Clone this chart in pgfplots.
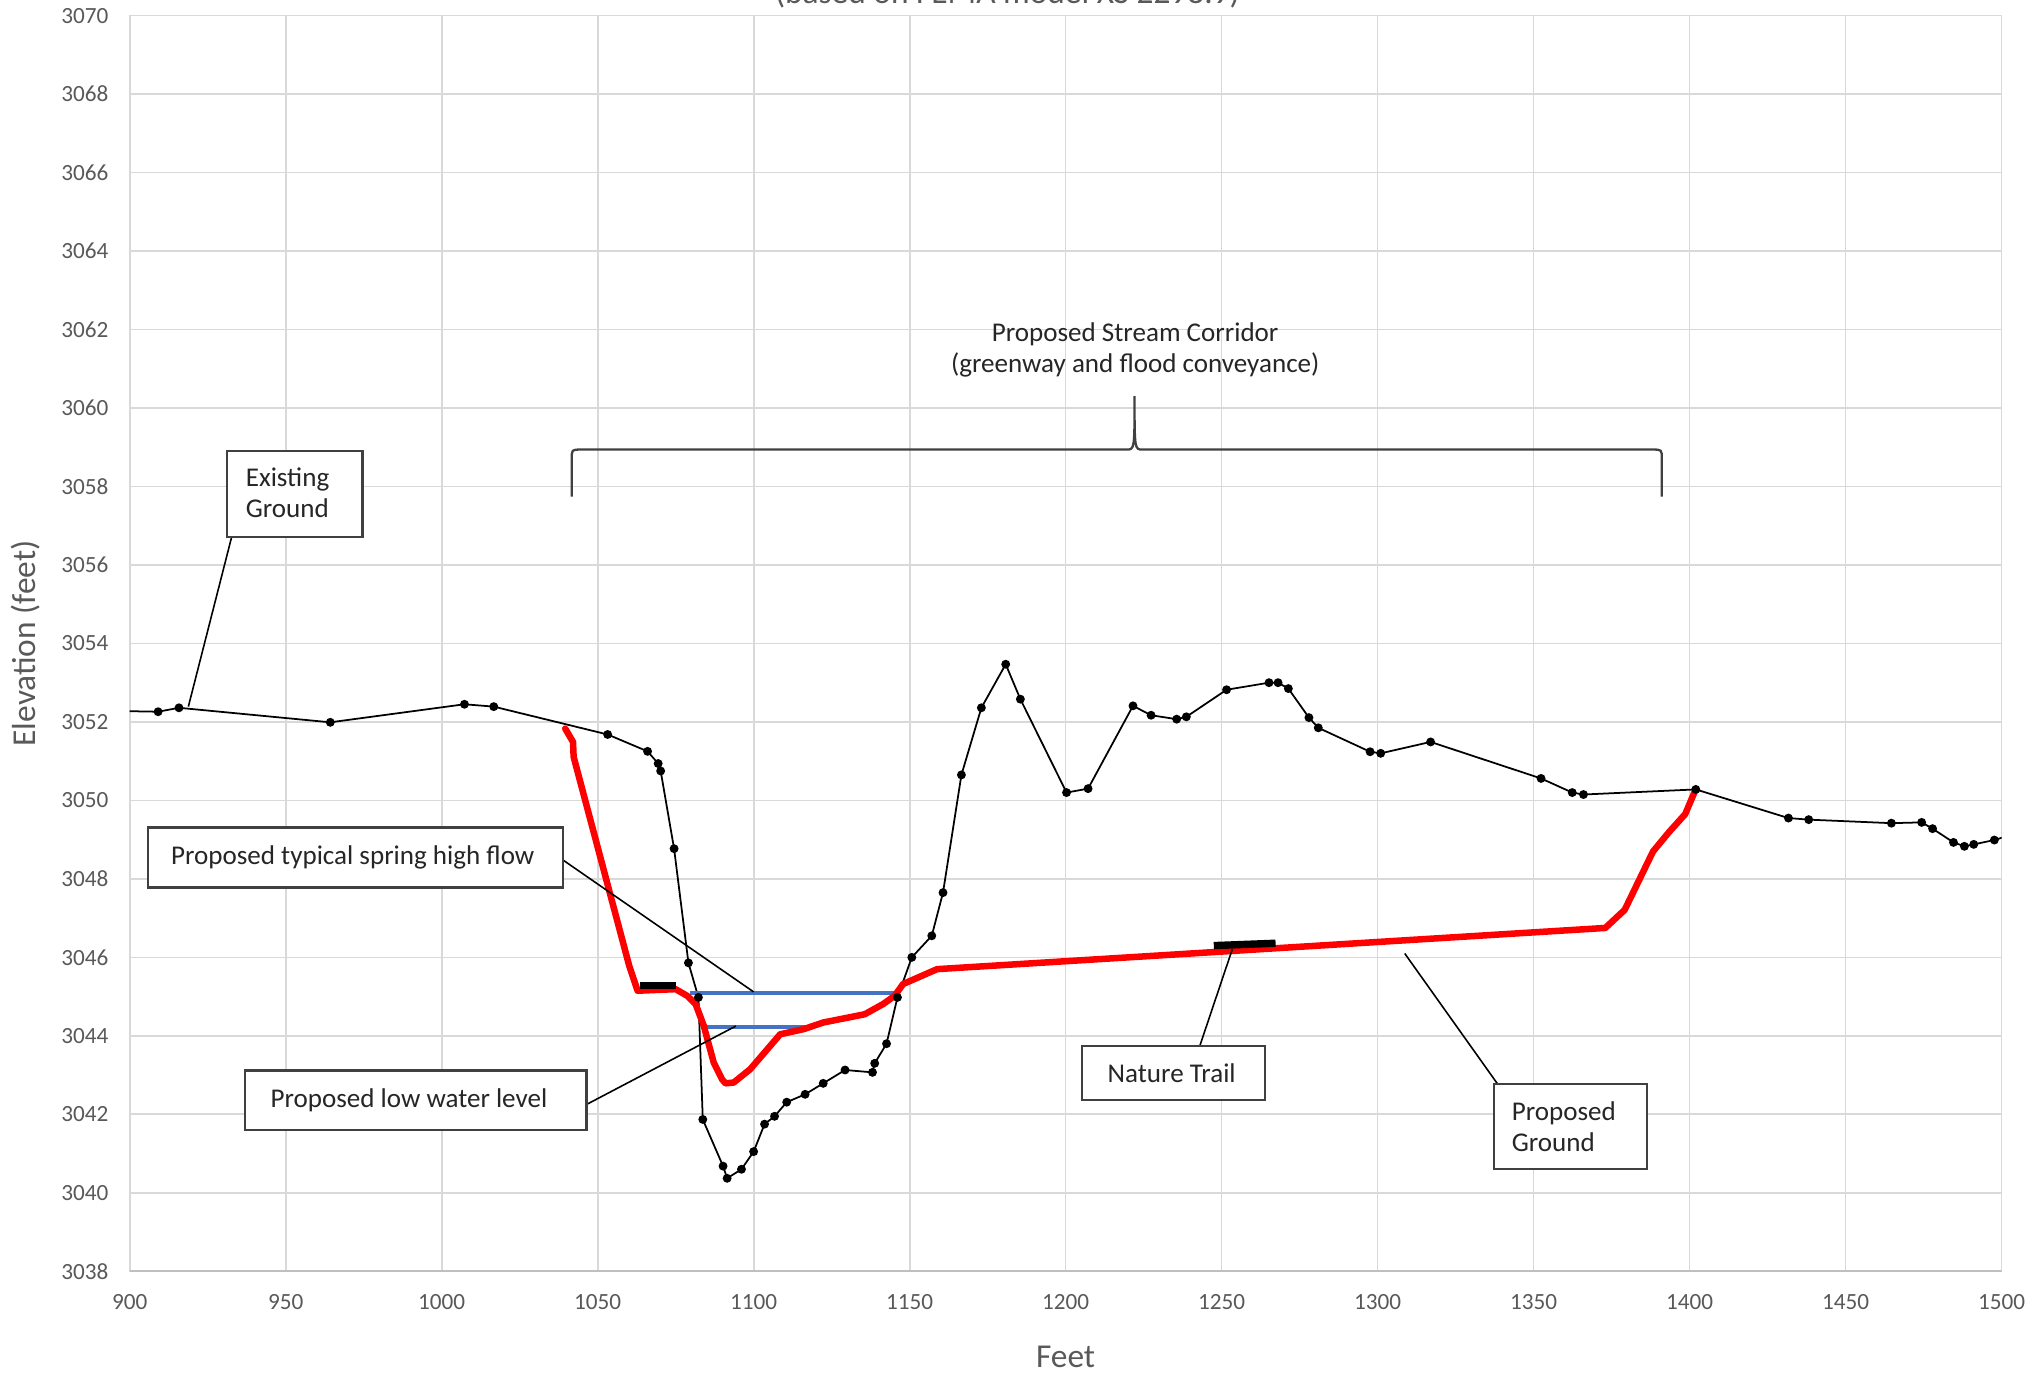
\documentclass[border=0pt]{standalone}
\usepackage{fontspec}
\setmainfont{Carlito}
\usepackage{pgfplots}
\pgfplotsset{compat=1.18}
\usepackage{pgfplotstable}

\definecolor{gridc}{HTML}{D9D9D9}
\definecolor{axc}{HTML}{BFBFBF}
\definecolor{tickc}{HTML}{595959}
\definecolor{txtc}{HTML}{262626}
\definecolor{boxc}{HTML}{404040}
\definecolor{bluec}{HTML}{4472C4}

\pgfplotstableread{
x y
895 3052.28
909.1 3052.26
915.8 3052.36
964.3 3051.99
1007.3 3052.45
1016.7 3052.39
1053.2 3051.68
1066.0 3051.25
1069.4 3050.94
1070.2 3050.75
1074.5 3048.77
1079.1 3045.86
1082.3 3044.98
1083.7 3041.87
1090.2 3040.68
1091.5 3040.37
1096.1 3040.60
1100.0 3041.05
1103.5 3041.75
1106.7 3041.95
1110.6 3042.31
1116.5 3042.51
1122.3 3042.79
1129.3 3043.13
1138.1 3043.07
1138.8 3043.30
1142.6 3043.80
1146.1 3044.98
1150.7 3046.00
1157.1 3046.55
1160.7 3047.65
1166.6 3050.65
1173.0 3052.36
1180.8 3053.47
1185.5 3052.58
1200.3 3050.20
1207.2 3050.30
1221.6 3052.41
1227.4 3052.17
1235.6 3052.07
1238.7 3052.13
1251.6 3052.82
1265.2 3053.00
1268.1 3053.00
1271.4 3052.85
1278.0 3052.11
1281.0 3051.85
1297.6 3051.24
1301.0 3051.20
1317.0 3051.49
1352.4 3050.56
1362.4 3050.20
1366.0 3050.15
1402.0 3050.28
1431.7 3049.55
1438.2 3049.51
1464.7 3049.42
1474.4 3049.44
1477.9 3049.28
1484.6 3048.93
1488.1 3048.83
1491.1 3048.88
1497.7 3048.99
1505.0 3049.17
}\existing

\pgfplotstableread{
x y
1039.6 3051.83
1042.1 3051.49
1042.3 3051.11
1060.1 3045.79
1062.8 3045.15
1075.0 3045.19
1078.7 3045.02
1081.4 3044.81
1084.0 3044.26
1087.2 3043.32
1089.9 3042.89
1091.0 3042.79
1093.6 3042.81
1098.9 3043.15
1108.5 3044.04
1116.0 3044.17
1122.3 3044.34
1135.6 3044.55
1141.5 3044.81
1145.2 3045.02
1147.9 3045.32
1158.8 3045.70
1373.0 3046.75
1379.2 3047.21
1388.3 3048.70
1393.5 3049.20
1398.6 3049.65
1401.8 3050.25
}\proposed

\begin{document}
\begin{tikzpicture}
\begin{axis}[
  scale only axis, width=187.18mm, height=125.57mm,
  xmin=900, xmax=1500, ymin=3038, ymax=3070,
  xtick={900,950,...,1500}, ytick={3038,3040,...,3070},
  grid=major, grid style={draw=gridc, line width=0.5pt},
  axis line style={draw=gridc, line width=0.5pt},
  major tick length=0pt,
  /pgf/number format/assume math mode=true,
  /pgf/number format/1000 sep={},
  tick label style={font=\fontsize{6.6}{7}\selectfont, text=tickc},
  xticklabel style={anchor=north, inner sep=0pt, yshift=-2.2mm},
  yticklabel style={anchor=east, inner sep=0pt, xshift=-2.07mm},
  xlabel={Feet}, ylabel={Elevation (feet)},
  label style={font=\fontsize{9.5}{11}\selectfont, text=tickc},
  xlabel style={at={(axis description cs:0.5,-0.0682)}, anchor=center},
  ylabel style={at={(axis description cs:-0.0554,0.5)}, anchor=center},
]
\draw[axc, line width=0.6pt] (rel axis cs:0,0) -- (rel axis cs:1,0);

\addplot[black, line width=0.5pt, mark=*, mark size=1.0pt, mark options={fill=black}] table {\existing};
\addplot[bluec, line width=1.0pt] coordinates {(1079.5,3045.09) (1145.5,3045.09)};
\addplot[bluec, line width=1.0pt] coordinates {(1084.5,3044.23) (1117,3044.23)};
\addplot[red, line width=1.85pt, line join=round, line cap=round] table {\proposed};
\addplot[black, line width=2.1pt] coordinates {(1063.5,3045.28) (1075,3045.28)};
\addplot[black, line width=2.1pt] coordinates {(1247.5,3046.30) (1267.3,3046.36)};

% brace
\draw[boxc, line width=0.65pt] (axis cs:1041.7,3057.74) -- (axis cs:1041.7,3058.70)
  .. controls (axis cs:1041.7,3058.94) .. (axis cs:1044.5,3058.94)
  -- (axis cs:1219.5,3058.94)
  .. controls (axis cs:1222.1,3058.94) .. (axis cs:1222.1,3060.30)
  .. controls (axis cs:1222.1,3058.94) .. (axis cs:1224.7,3058.94)
  -- (axis cs:1388.3,3058.94)
  .. controls (axis cs:1391.1,3058.94) .. (axis cs:1391.1,3058.70)
  -- (axis cs:1391.1,3057.74);
\node[align=center, font=\fontsize{7.7}{8.8}\selectfont, text=txtc, inner sep=0pt]
  at (axis cs:1222.3,3061.47) {Proposed Stream Corridor\\(greenway and flood conveyance)};

% callout lines
\draw[black, line width=0.45pt] (axis cs:932.7,3056.72) -- (axis cs:918.8,3052.39);
\draw[black, line width=0.45pt] (axis cs:1038.9,3048.48) -- (axis cs:1100.0,3045.12);
\draw[black, line width=0.45pt] (axis cs:1046.4,3042.25) -- (axis cs:1094.3,3044.25);
\draw[black, line width=0.45pt] (axis cs:1243.0,3043.74) -- (axis cs:1253.4,3046.20);
\draw[black, line width=0.45pt] (axis cs:1338.5,3042.77) -- (axis cs:1308.7,3046.10);

% boxes
\draw[boxc, line width=0.65pt, fill=white] (axis cs:931.3,3056.72) rectangle (axis cs:974.6,3058.91);
\node[anchor=west, align=left, font=\fontsize{7.7}{8.8}\selectfont, text=txtc, inner sep=0pt]
  at (axis cs:937,3057.85) {Existing\\Ground};

\draw[boxc, line width=0.65pt, fill=white] (axis cs:905.8,3047.78) rectangle (axis cs:1038.9,3049.31);
\node[font=\fontsize{7.7}{8.8}\selectfont, text=txtc, inner sep=0pt]
  at (axis cs:971.5,3048.55) {Proposed typical spring high flow};

\draw[boxc, line width=0.65pt, fill=white] (axis cs:937.0,3041.60) rectangle (axis cs:1046.4,3043.12);
\node[font=\fontsize{7.7}{8.8}\selectfont, text=txtc, inner sep=0pt]
  at (axis cs:989.5,3042.36) {Proposed low water level};

\draw[boxc, line width=0.65pt, fill=white] (axis cs:1205.2,3042.37) rectangle (axis cs:1264.0,3043.74);
\node[font=\fontsize{7.7}{8.8}\selectfont, text=txtc, inner sep=0pt]
  at (axis cs:1234.0,3043.05) {Nature Trail};

\draw[boxc, line width=0.65pt, fill=white] (axis cs:1337.4,3040.60) rectangle (axis cs:1386.4,3042.77);
\node[anchor=west, align=left, font=\fontsize{7.7}{8.8}\selectfont, text=txtc, inner sep=0pt]
  at (axis cs:1342.8,3041.68) {Proposed\\Ground};

\coordinate (bl) at (rel axis cs:0,0);
\coordinate (tr) at (rel axis cs:1,1);
\end{axis}
\node[anchor=base, font=\fontsize{9.5}{11}\selectfont, text=tickc, inner sep=0pt]
  at ([xshift=-99.4mm,yshift=1.2mm]tr) {(based on FEMA model XS 2298.9)};
\pgfresetboundingbox
\path[use as bounding box] ([xshift=-12.97mm,yshift=-10.37mm]bl) rectangle ([xshift=3.25mm,yshift=1.56mm]tr);
\end{tikzpicture}
\end{document}
